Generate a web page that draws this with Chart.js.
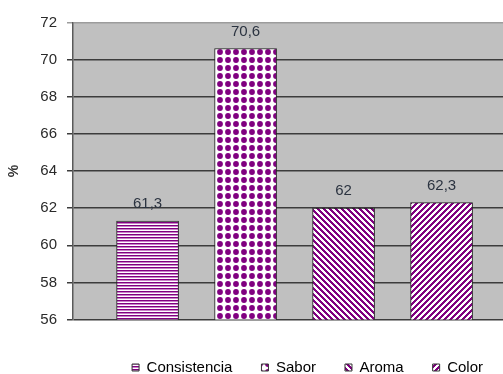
<!DOCTYPE html>
<html lang="es">
<head>
<meta charset="UTF-8">
<title>Evaluación sensorial</title>
<script src="https://cdn.jsdelivr.net/npm/chart.js"></script>
<style>
  body { margin: 0; background: #fff; }
  canvas { display: block; }
</style>
</head>
<body>
<canvas id="grafico" width="503" height="374"></canvas>
<script>
// datos del gráfico
const categorias = ['Consistencia', 'Sabor', 'Aroma', 'Color'];
const valores = [61.3, 70.6, 62, 62.3];
const tramas = ['rayas', 'puntos', 'diagonalBaja', 'diagonalSube'];
const yMin = 56, yMax = 72, yPaso = 2;

const MORADO = [128, 0, 128];
const FUENTE = '"Liberation Sans", Arial, sans-serif';

// tramas tipo Excel hechas a mano, píxel a píxel
function crearTrama(tipo) {
  const tam = tipo === 'puntos' ? 8 : (tipo === 'rayas' ? 3 : 6);
  const c = document.createElement('canvas');
  c.width = tam; c.height = tam;
  const g = c.getContext('2d');
  if (tipo === 'puntos') {
    g.fillStyle = '#fff';
    g.fillRect(0, 0, tam, tam);
    g.fillStyle = 'rgb(' + MORADO.join(',') + ')';
    g.beginPath();
    g.arc(4, 4, 2.9, 0, Math.PI * 2);
    g.fill();
    return g.createPattern(c, 'repeat');
  }
  const img = g.createImageData(tam, tam);
  for (let y = 0; y < tam; y++) {
    for (let x = 0; x < tam; x++) {
      let col = [255, 255, 255];
      if (tipo === 'rayas') {
        if (y === 0) col = MORADO;
        else if (y === 1) col = [200, 130, 200];
      } else if (tipo === 'diagonalBaja') {
        if ((((x - y) % tam) + tam) % tam < 3) col = MORADO;
      } else {
        if ((x + y) % tam < 3) col = MORADO;
      }
      const k = (y * tam + x) * 4;
      img.data[k] = col[0]; img.data[k + 1] = col[1]; img.data[k + 2] = col[2]; img.data[k + 3] = 255;
    }
  }
  g.putImageData(img, 0, 0);
  return g.createPattern(c, 'repeat');
}

const patrones = tramas.map(crearTrama);

// fondo gris del área de trazado
const fondoGris = {
  id: 'fondoGris',
  beforeDraw(chart) {
    const { ctx, chartArea: a } = chart;
    ctx.save();
    ctx.fillStyle = '#fff';
    ctx.fillRect(0, 0, chart.width, chart.height);
    ctx.fillStyle = '#c0c0c0';
    ctx.fillRect(a.left, a.top, a.right - a.left, a.bottom - a.top);
    ctx.restore();
  }
};

// valores encima de cada barra
const etiquetasValor = {
  id: 'etiquetasValor',
  afterDatasetsDraw(chart) {
    const ctx = chart.ctx;
    const meta = chart.getDatasetMeta(0);
    ctx.save();
    ctx.font = '15px ' + FUENTE;
    ctx.fillStyle = '#2b3340';
    ctx.textAlign = 'center';
    ctx.textBaseline = 'middle';
    meta.data.forEach((barra, i) => {
      ctx.fillText(String(valores[i]).replace('.', ','), barra.x, barra.y - 17);
    });
    ctx.restore();
  }
};

new Chart(document.getElementById('grafico'), {
  type: 'bar',
  data: {
    labels: categorias,
    datasets: [{
      data: valores.map((v, i) => ({ x: i, y: v })),
      backgroundColor: patrones,
      borderColor: '#222',
      borderWidth: 1,
      borderSkipped: false,
      barThickness: 62
    }]
  },
  options: {
    responsive: false,
    animation: false,
    devicePixelRatio: 1,
    layout: { padding: { top: 22.5, right: -9, bottom: -11, left: 0 } },
    plugins: {
      tooltip: { enabled: false },
      legend: {
        position: 'bottom',
        align: 'end',
        onClick: null,
        labels: {
          boxWidth: 7,
          boxHeight: 7,
          padding: 29,
          color: '#333',
          font: { family: FUENTE, size: 15 },
          generateLabels: () => categorias.map((c, i) => ({
            text: c,
            fillStyle: patrones[i],
            strokeStyle: '#333',
            lineWidth: 1,
            hidden: false,
            index: i
          }))
        }
      }
    },
    scales: {
      x: {
        type: 'linear',
        offset: false,
        min: -0.761,
        max: 3.627,
        ticks: { display: false },
        grid: { display: false },
        border: { display: false },
        afterFit(scale) { scale.height = 11.5; }
      },
      y: {
        min: yMin,
        max: yMax,
        ticks: {
          stepSize: yPaso,
          padding: 10,
          color: '#2a2a2a',
          font: { family: FUENTE, size: 15 }
        },
        grid: {
          color: c => (c.tick && c.tick.value === yMax) ? '#9c9c9c' : '#3c3c3c',
          lineWidth: 1.5,
          tickLength: 6
        },
        border: { color: '#5a5a5a', width: 1.5 },
        title: {
          display: true,
          text: '%',
          color: '#333',
          font: { family: FUENTE, size: 14, weight: 'bold' },
          padding: { top: 6, bottom: 0 }
        },
        afterFit(scale) { scale.width = 73; }
      }
    }
  },
  plugins: [fondoGris, etiquetasValor]
});
</script>
</body>
</html>
